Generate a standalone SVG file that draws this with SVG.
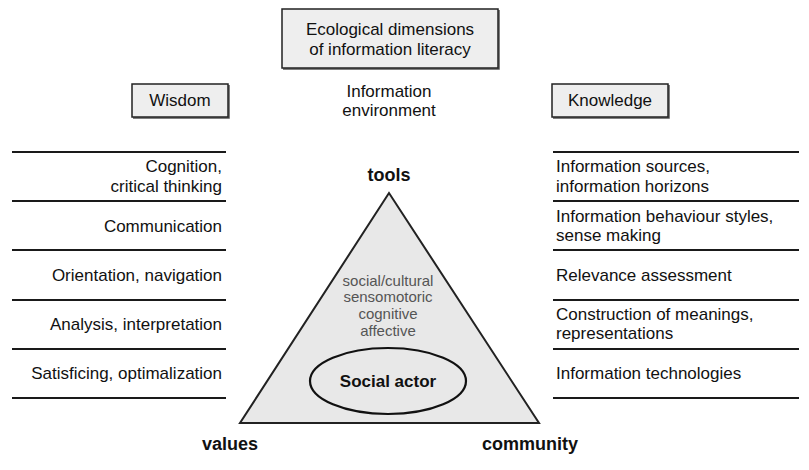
<svg xmlns="http://www.w3.org/2000/svg" width="809" height="470" viewBox="0 0 809 470">
<style>
text{font-family:"Liberation Sans",Arial,sans-serif;fill:#111}
.t{font-size:17px}
.box{fill:#eeeeee;stroke:#222;stroke-width:1.5}
.shadow{fill:none;stroke:#555;stroke-width:1.5}
.sep{stroke:#1a1a1a;stroke-width:2}
.b{font-weight:bold;font-size:18px}
.g{font-size:15px;fill:#555}
.m{text-anchor:middle}
.r{text-anchor:end}
</style>
<rect width="809" height="470" fill="#ffffff"/>
<g id="title">
<polyline class="shadow" points="283,69 499,69 499,10"/>
<rect class="box" x="282" y="9" width="216" height="59"/>
<text class="t m" x="390" y="35">Ecological dimensions</text>
<text class="t m" x="390" y="55">of information literacy</text>
</g>
<g id="wisdom">
<polyline class="shadow" points="133,118 229,118 229,85"/>
<rect class="box" x="132" y="84" width="96" height="33"/>
<text class="t m" x="180" y="106">Wisdom</text>
</g>
<g id="knowledge">
<polyline class="shadow" points="553,118 669,118 669,85"/>
<rect class="box" x="552" y="84" width="116" height="33"/>
<text class="t m" x="610" y="106">Knowledge</text>
</g>
<g id="environment">
<text class="t m" x="389" y="97">Information</text>
<text class="t m" x="389" y="116">environment</text>
</g>
<g id="connectors">
<line class="sep" x1="12" y1="152" x2="226" y2="152"/>
<line class="sep" x1="12" y1="201" x2="226" y2="201"/>
<line class="sep" x1="12" y1="250" x2="226" y2="250"/>
<line class="sep" x1="12" y1="300" x2="226" y2="300"/>
<line class="sep" x1="12" y1="349" x2="226" y2="349"/>
<line class="sep" x1="12" y1="398" x2="226" y2="398"/>
<line class="sep" x1="553" y1="152" x2="799" y2="152"/>
<line class="sep" x1="553" y1="201" x2="799" y2="201"/>
<line class="sep" x1="553" y1="250" x2="799" y2="250"/>
<line class="sep" x1="553" y1="300" x2="799" y2="300"/>
<line class="sep" x1="553" y1="349" x2="799" y2="349"/>
<line class="sep" x1="553" y1="398" x2="799" y2="398"/>
</g>
<g id="wisdom-items">
<text class="t r" x="222" y="172">Cognition,</text>
<text class="t r" x="222" y="192">critical thinking</text>
<text class="t r" x="222" y="232">Communication</text>
<text class="t r" x="222" y="281">Orientation, navigation</text>
<text class="t r" x="222" y="330">Analysis, interpretation</text>
<text class="t r" x="222" y="379">Satisficing, optimalization</text>
</g>
<g id="knowledge-items">
<text class="t" x="556" y="172">Information sources,</text>
<text class="t" x="556" y="192">information horizons</text>
<text class="t" x="556" y="222">Information behaviour styles,</text>
<text class="t" x="556" y="241">sense making</text>
<text class="t" x="556" y="281">Relevance assessment</text>
<text class="t" x="556" y="320">Construction of meanings,</text>
<text class="t" x="556" y="339">representations</text>
<text class="t" x="556" y="379">Information technologies</text>
</g>
<g id="triangle">
<polygon points="389,193 240,423 539,423" fill="#e8e8e8" stroke="#222" stroke-width="2" stroke-linejoin="miter"/>
<text class="g m" x="388" y="286">social/cultural</text>
<text class="g m" x="388" y="302">sensomotoric</text>
<text class="g m" x="388" y="319">cognitive</text>
<text class="g m" x="388" y="336">affective</text>
</g>
<g id="social-actor">
<ellipse cx="388" cy="381" rx="78" ry="33" fill="none" stroke="#111" stroke-width="2.2"/>
<text class="m" x="388" y="387" style="font-weight:bold;font-size:17px">Social actor</text>
</g>
<g id="tools"><text class="b m" x="389" y="181">tools</text></g>
<g id="values"><text class="b m" x="230" y="450">values</text></g>
<g id="community"><text class="b m" x="530" y="450">community</text></g>
</svg>
